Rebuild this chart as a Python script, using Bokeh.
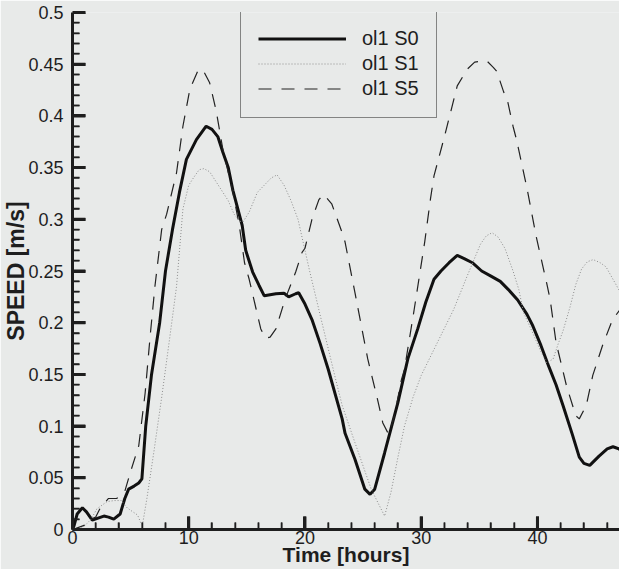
from bokeh.plotting import figure
from bokeh.models import Range1d, FixedTicker, CustomJSTickFormatter, Legend, LegendItem
from bokeh.embed import file_html
from bokeh.resources import INLINE

# ---- data ----
t_s0 = [0, 0.14, 0.4, 0.85, 1.2, 1.7, 2.2, 2.7, 3.1, 3.55, 4.1, 4.5, 4.83, 5.3, 5.7, 5.97,
        6.3, 6.8, 7.5, 8.0, 8.6, 9.2, 9.8, 10.66, 11.5, 12.0, 12.5, 12.93, 13.4, 13.8, 14.6,
        14.9, 15.5, 16.05, 16.5, 17.5, 18.2, 18.6, 19.2, 19.46, 20.0, 20.6, 21.3, 22.0, 22.6,
        23.2, 23.45, 24.3, 25.15, 25.6, 26.0, 26.85, 28.0, 28.85, 29.7, 30.4, 31.1, 31.7, 32.4,
        33.1, 33.7, 34.4, 35.2, 36.0, 36.8, 37.5, 38.3, 39.1, 39.6, 40.3, 41.0, 41.6, 42.2,
        43.0, 43.6, 44.0, 44.5, 45.3, 46.0, 46.5, 47.0, 47.6]
v_s0 = [0.0, 0.004, 0.015, 0.021, 0.017, 0.009, 0.011, 0.013, 0.012, 0.010, 0.015, 0.030, 0.039,
        0.042, 0.045, 0.049, 0.100, 0.150, 0.200, 0.250, 0.290, 0.326, 0.358, 0.377, 0.390, 0.387,
        0.380, 0.365, 0.350, 0.328, 0.294, 0.270, 0.249, 0.236, 0.226, 0.228, 0.2285, 0.225, 0.228,
        0.229, 0.218, 0.203, 0.180, 0.155, 0.131, 0.107, 0.093, 0.068, 0.039, 0.034, 0.039, 0.074,
        0.123, 0.165, 0.194, 0.220, 0.242, 0.250, 0.258, 0.265, 0.262, 0.258, 0.250, 0.245, 0.240,
        0.232, 0.222, 0.208, 0.197, 0.178, 0.157, 0.140, 0.120, 0.092, 0.070, 0.064, 0.062, 0.071,
        0.078, 0.080, 0.078, 0.074]

t_s1 = [0, 1.0, 1.6, 2.1, 2.98, 3.6, 4.2, 4.7, 5.2, 5.6, 6.0, 6.4, 7.0, 7.7, 8.3, 8.95, 9.5,
        10.0, 10.4, 10.9, 11.3, 11.8, 12.6, 13.4, 13.9, 14.4, 14.7, 15.2, 15.9, 16.5, 17.1, 17.6,
        18.2, 18.8, 19.4, 20.0, 20.4, 21.4, 22.6, 23.2, 24.3, 25.7, 26.85, 27.4, 28.0, 28.56, 29.3,
        30.0, 31.4, 32.8, 33.95, 35.1, 35.6, 36.1, 36.6, 37.2, 37.9, 38.4, 38.8, 39.6, 40.3, 40.8,
        41.35, 41.8, 42.2, 42.8, 43.3, 43.8, 44.3, 44.8, 45.4, 45.9, 46.7, 47.6]
v_s1 = [0.0, 0.003, 0.010, 0.020, 0.027, 0.028, 0.028, 0.021, 0.017, 0.014, 0.003, 0.030, 0.075,
        0.130, 0.180, 0.235, 0.310, 0.333, 0.340, 0.348, 0.349, 0.346, 0.332, 0.318, 0.305, 0.298,
        0.298, 0.307, 0.326, 0.333, 0.340, 0.343, 0.333, 0.318, 0.300, 0.270, 0.250, 0.203, 0.147,
        0.120, 0.084, 0.039, 0.013, 0.036, 0.070, 0.100, 0.128, 0.149, 0.181, 0.213, 0.245, 0.276,
        0.284, 0.287, 0.283, 0.272, 0.250, 0.232, 0.210, 0.190, 0.172, 0.161, 0.165, 0.180, 0.192,
        0.215, 0.237, 0.252, 0.259, 0.261, 0.258, 0.254, 0.238, 0.220]

t_s5 = [0, 1.0, 1.6, 2.0, 2.4, 3.1, 3.8, 4.5, 4.97, 5.7, 6.25, 6.68, 7.1, 7.67, 8.1, 8.95, 9.5,
        10.1, 10.8, 11.2, 11.8, 12.36, 12.93, 13.8, 14.35, 14.8, 15.2, 15.8, 16.2, 16.6, 17.0,
        17.5, 18.3, 19.2, 19.75, 20.0, 20.6, 21.2, 21.6, 22.3, 23.2, 23.45, 24.3, 25.4, 26.3,
        26.7, 27.2, 27.7, 28.3, 28.56, 29.4, 30.3, 30.8, 31.1, 32.0, 33.1, 33.95, 34.6, 35.1,
        35.66, 36.2, 36.5, 37.1, 37.4, 37.9, 38.2, 39.1, 39.9, 40.8, 41.1, 41.6, 42.5, 43.3,
        43.6, 44.2, 44.76, 45.6, 46.46, 47.2, 47.6]
v_s5 = [0.0, 0.004, 0.010, 0.012, 0.021, 0.030, 0.030, 0.037, 0.055, 0.081, 0.132, 0.187, 0.236,
        0.290, 0.305, 0.345, 0.390, 0.426, 0.444, 0.445, 0.432, 0.405, 0.368, 0.326, 0.294, 0.258,
        0.242, 0.213, 0.194, 0.185, 0.186, 0.194, 0.223, 0.249, 0.268, 0.272, 0.300, 0.319, 0.324,
        0.315, 0.287, 0.278, 0.229, 0.165, 0.123, 0.103, 0.092, 0.110, 0.145, 0.155, 0.213, 0.278,
        0.320, 0.342, 0.380, 0.429, 0.445, 0.452, 0.453, 0.453, 0.447, 0.443, 0.423, 0.416, 0.390,
        0.377, 0.330, 0.283, 0.238, 0.222, 0.181, 0.139, 0.110, 0.107, 0.120, 0.149, 0.178, 0.203,
        0.214, 0.216]

series_labels = ["ol1 S0", "ol1 S1", "ol1 S5"]
x_ticks = [0, 10, 20, 30, 40]
x_minor = [2, 4, 6, 8, 12, 14, 16, 18, 22, 24, 26, 28, 32, 34, 36, 38, 42, 44, 46]
y_ticks = [0, 0.05, 0.1, 0.15, 0.2, 0.25, 0.3, 0.35, 0.4, 0.45, 0.5]
y_minor = [round(0.01 * i, 2) for i in range(51) if i % 5 != 0]
x_title = "Time [hours]"
y_title = "SPEED [m/s]"

X0, X1 = 0, 47.06
Y0, Y1 = 0, 0.5
FRAME_W, FRAME_H = 552, 517      # frame size in px (figure size minus borders)
PX_X = (X1 - X0) / FRAME_W       # data units per px
PX_Y = (Y1 - Y0) / FRAME_H

BG = "#e8eae9"
INK = "#1e1e1e"
FONT = "Liberation Sans"

p = figure(width=619, height=569, x_range=Range1d(X0, X1), y_range=Range1d(Y0, Y1),
           output_backend="svg", toolbar_location=None,
           min_border_left=67, min_border_right=0, min_border_top=12, min_border_bottom=40)
p.background_fill_color = BG
p.border_fill_color = BG
p.outline_line_color = None
p.xgrid.visible = False
p.ygrid.visible = False

# inward tick marks as small filled bars derived from the tick lists
for ticks, ln, w in ((x_ticks, 13, 3), (x_minor, 7, 1.5)):
    p.quad(left=[t - w / 2 * PX_X for t in ticks], right=[t + w / 2 * PX_X for t in ticks],
           bottom=[Y0] * len(ticks), top=[Y0 + ln * PX_Y] * len(ticks),
           fill_color=INK, line_color=None)
for ticks, ln, w in ((y_ticks, 13, 3), (y_minor, 7, 1.5)):
    p.quad(left=[X0] * len(ticks), right=[X0 + ln * PX_X] * len(ticks),
           bottom=[t - w / 2 * PX_Y for t in ticks], top=[t + w / 2 * PX_Y for t in ticks],
           fill_color=INK, line_color=None)

r0 = p.line(t_s0, v_s0, line_color="#111111", line_width=3)
r1 = p.line(t_s1, v_s1, line_color="#8c8c8c", line_width=1, line_dash="1 2")
r5 = p.line(t_s5, v_s5, line_color="#222222", line_width=1.2, line_dash="13 10")

p.xaxis.ticker = FixedTicker(ticks=x_ticks, minor_ticks=x_minor)
p.yaxis.ticker = FixedTicker(ticks=y_ticks, minor_ticks=y_minor)
p.yaxis.formatter = CustomJSTickFormatter(code="return String(Number(tick.toFixed(2)));")
p.xaxis.formatter = CustomJSTickFormatter(code="return String(Math.round(tick));")

for ax in (p.xaxis, p.yaxis):
    ax.axis_line_width = 3
    ax.axis_line_color = INK
    ax.major_tick_line_color = INK
    ax.minor_tick_line_color = INK
    ax.major_tick_line_width = 3
    ax.minor_tick_line_width = 1.5
    ax.major_tick_in = 13
    ax.major_tick_out = 0
    ax.minor_tick_in = 7
    ax.minor_tick_out = 0
    ax.major_label_text_font = FONT
    ax.major_label_text_font_size = "18px"
    ax.major_label_text_color = INK
    ax.axis_label_text_font = FONT
    ax.axis_label_text_font_style = "bold"
    ax.axis_label_text_color = INK

p.xaxis.major_label_standoff = 1
p.xaxis.axis_label = x_title
p.xaxis.axis_label_text_font_size = "21px"
p.xaxis.axis_label_standoff = -4
p.yaxis.major_label_standoff = 9
p.yaxis.axis_label = y_title
p.yaxis.axis_label_text_font_size = "23px"
p.yaxis.axis_label_standoff = -4

legend = Legend(items=[LegendItem(label=series_labels[0], renderers=[r0]),
                       LegendItem(label=series_labels[1], renderers=[r1]),
                       LegendItem(label=series_labels[2], renderers=[r5])],
                location=(168, 411))
legend.title = " "
legend.title_text_font_size = "2px"
legend.title_standoff = 5
legend.margin = 0
legend.padding = 17
legend.spacing = 2
legend.glyph_width = 88
legend.glyph_height = 21
legend.label_height = 21
legend.label_standoff = 16
legend.label_text_font = FONT
legend.label_text_font_size = "20px"
legend.label_text_color = INK
legend.border_line_color = INK
legend.border_line_width = 1.5
legend.background_fill_alpha = 0
p.add_layout(legend)

open("out.html", "w").write(file_html(p, INLINE))
